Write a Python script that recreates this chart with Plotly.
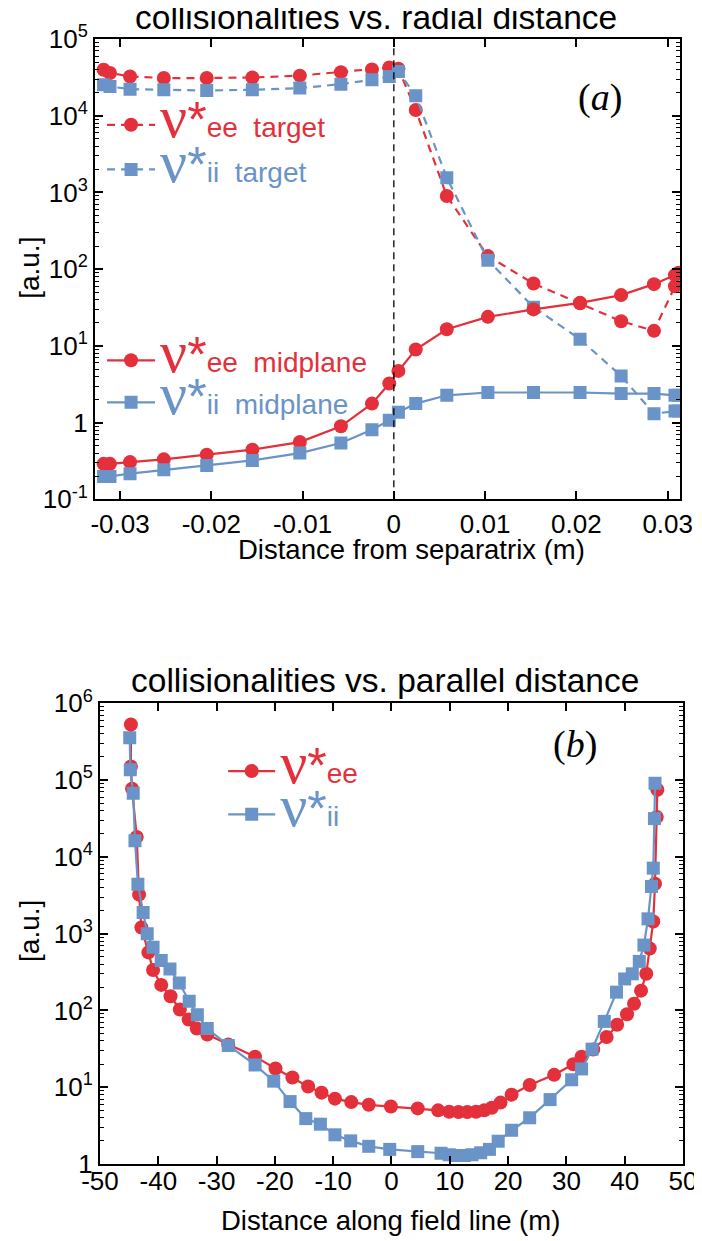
import plotly.graph_objects as go

# ---------------- data: panel (a) ----------------
x_a = [-0.0318, -0.0311, -0.0289, -0.0252, -0.0205, -0.0155, -0.0103, -0.0058, -0.0024, -0.0005,
       0.0005, 0.0024, 0.0058, 0.0103, 0.0153, 0.0204, 0.0249, 0.0285, 0.0308, 0.0312]
ee_target = [39800, 36000, 32500, 31000, 31000, 31500, 33300, 37000, 40000, 42500,
             41000, 11900, 900, 148, 65, 36, 21, 15.7, 60, 88]
ii_target = [25300, 24000, 22200, 21800, 21300, 21800, 22900, 25800, 29400, 32500,
             37800, 18200, 1560, 131, 32, 12.2, 4.06, 1.31, 1.42, 1.42]
ee_mid = [0.29, 0.29, 0.306, 0.332, 0.382, 0.444, 0.558, 0.895, 1.77, 3.23,
          4.72, 8.97, 16.5, 23.9, 29.9, 36.4, 45.9, 63.8, 83.7, 89.7]
ii_mid = [0.199, 0.199, 0.216, 0.243, 0.277, 0.322, 0.401, 0.542, 0.81, 1.07,
          1.37, 1.77, 2.27, 2.47, 2.47, 2.47, 2.39, 2.39, 2.27, 2.27]

xticks_a = [-0.03, -0.02, -0.01, 0, 0.01, 0.02, 0.03]
xticktext_a = ["-0.03", "-0.02", "-0.01", "0", "0.01", "0.02", "0.03"]
yticks_a = [0.1, 1, 10, 100, 1000, 1e4, 1e5]
yticktext_a = ["10<sup>-1</sup>", "1", "10<sup>1</sup>", "10<sup>2</sup>", "10<sup>3</sup>",
               "10<sup>4</sup>", "10<sup>5</sup>"]

# ---------------- data: panel (b) ----------------
x_ee_b = [-44.7, -44.7, -44.5, -43.7, -43.3, -42.9, -41.7, -40.9, -39.5, -37.9, -36.3, -34.8,
          -33.4, -31.6, -28.0, -23.4, -19.9, -17.0, -14.3, -12.0, -9.7, -6.9, -3.9, -0.1, 4.5,
          8.0, 9.9, 11.5, 13.0, 14.5, 15.9, 17.2, 18.7, 20.6, 23.7, 27.9, 31.2, 32.6, 34.6,
          36.9, 38.7, 40.4, 41.6, 42.8, 43.7, 44.3, 44.9, 45.2, 45.5, 45.6]
ee_b = [530000, 150000, 77000, 18200, 3220, 1200, 570, 336, 215, 153, 103, 76, 58, 48.6, 36,
        25, 17.5, 13.4, 10.2, 8.5, 7.1, 6.4, 5.9, 5.6, 5.3, 5.0, 4.8, 4.75, 4.75, 4.8, 5.0,
        5.4, 6.3, 8.0, 10.7, 14.5, 19.9, 25, 31, 45, 65, 89, 122, 181, 300, 640, 1440, 4470,
        33000, 75000]
x_ii_b = [-44.9, -44.8, -44.3, -44.0, -43.5, -42.6, -41.9, -40.9, -39.5, -38.0, -36.4, -34.7,
          -33.3, -31.6, -28.0, -23.4, -20.2, -17.4, -14.7, -12.2, -9.7, -7.0, -3.9, -0.3, 4.5,
          8.5, 9.9, 11.2, 12.5, 13.8, 15.3, 16.8, 18.3, 20.6, 23.7, 27.2, 30.9, 32.6, 34.4,
          36.5, 38.6, 40.0, 41.3, 42.5, 43.3, 44.0, 44.6, 44.9, 45.1, 45.2]
ii_b = [357000, 136000, 67600, 16200, 4400, 1880, 1000, 665, 448, 346, 228, 132, 88, 58, 35,
        19.5, 12, 6.5, 3.9, 3.3, 2.4, 2.0, 1.7, 1.55, 1.45, 1.38, 1.32, 1.29, 1.29, 1.32, 1.40,
        1.55, 1.98, 2.75, 4.0, 6.9, 12.5, 17.3, 31.3, 72, 173, 257, 300, 435, 710, 1560, 4120,
        7130, 31500, 91000]

xticks_b = [-50, -40, -30, -20, -10, 0, 10, 20, 30, 40, 50]
xticktext_b = ["-50", "-40", "-30", "-20", "-10", "0", "10", "20", "30", "40", "50"]
yticks_b = [1, 10, 100, 1000, 1e4, 1e5, 1e6]
yticktext_b = ["1", "10<sup>1</sup>", "10<sup>2</sup>", "10<sup>3</sup>", "10<sup>4</sup>",
               "10<sup>5</sup>", "10<sup>6</sup>"]

RED = "#e3303a"
BLUE = "#6a93c8"
SANS = "Liberation Sans, Arial, sans-serif"


def label(sub, color):
    nu = ("<span style='font-family:Liberation Serif;font-size:60px'>\u03bd</span>"
          "<span style='font-size:50px'>*</span>")
    return f"<span style='color:{color}'>{nu}<span style='font-size:28px'>{sub}</span></span>"


fig = go.Figure()

# panel (a)
fig.add_trace(go.Scatter(x=x_a, y=ee_target, mode="lines+markers", xaxis="x", yaxis="y",
                         line=dict(color=RED, width=2.2, dash="8px,6px"),
                         marker=dict(symbol="circle", size=14, color=RED),
                         name=label("ee\u00a0\u00a0target", RED), legend="legend"))
fig.add_trace(go.Scatter(x=x_a, y=ii_target, mode="lines+markers", xaxis="x", yaxis="y",
                         line=dict(color=BLUE, width=2.2, dash="8px,6px"),
                         marker=dict(symbol="square", size=13, color=BLUE),
                         name=label("ii\u00a0\u00a0target", BLUE), legend="legend"))
fig.add_trace(go.Scatter(x=x_a, y=ee_mid, mode="lines+markers", xaxis="x", yaxis="y",
                         line=dict(color=RED, width=2.2),
                         marker=dict(symbol="circle", size=14, color=RED),
                         name=label("ee\u00a0\u00a0midplane", RED), legend="legend2"))
fig.add_trace(go.Scatter(x=x_a, y=ii_mid, mode="lines+markers", xaxis="x", yaxis="y",
                         line=dict(color=BLUE, width=2.2),
                         marker=dict(symbol="square", size=13, color=BLUE),
                         name=label("ii\u00a0\u00a0midplane", BLUE), legend="legend2"))

# panel (b)
fig.add_trace(go.Scatter(x=x_ee_b, y=ee_b, mode="lines+markers", xaxis="x2", yaxis="y2",
                         line=dict(color=RED, width=2.2),
                         marker=dict(symbol="circle", size=14, color=RED),
                         name=label("ee", RED), legend="legend3"))
fig.add_trace(go.Scatter(x=x_ii_b, y=ii_b, mode="lines+markers", xaxis="x2", yaxis="y2",
                         line=dict(color=BLUE, width=2.2),
                         marker=dict(symbol="square", size=13, color=BLUE),
                         name=label("ii", BLUE), legend="legend3"))

axis_common = dict(showline=True, linecolor="black", linewidth=2, mirror="allticks",
                   ticks="inside", ticklen=8, tickwidth=1.5, tickcolor="black",
                   showgrid=False, zeroline=False,
                   tickfont=dict(family=SANS, size=26, color="black"))
minor_log = dict(ticks="inside", ticklen=4, tickwidth=1, tickcolor="black", dtick="D1",
                 showgrid=False)

# the page body adds an 8px offset; margins compensate so the plot areas land in place
fig.update_layout(
    width=702, height=1241,
    margin=dict(l=87, r=27, t=31, b=85),
    paper_bgcolor="white", plot_bgcolor="white",
    showlegend=True,
    xaxis=dict(domain=[0, 0.9949], range=[-0.03274, 0.03135], anchor="y",
               tickmode="array", tickvals=xticks_a, ticktext=xticktext_a, **axis_common),
    yaxis=dict(domain=[0.5908, 1], type="log", range=[-1, 5], anchor="x",
               tickmode="array", tickvals=yticks_a, ticktext=yticktext_a,
               minor=minor_log, **axis_common),
    xaxis2=dict(domain=[0.0085, 1], range=[-50, 50], anchor="y2",
                tickmode="array", tickvals=xticks_b, ticktext=xticktext_b,
                ticklabelstandoff=-7, **axis_common),
    yaxis2=dict(domain=[0, 0.4095], type="log", range=[0, 6], anchor="x2",
                tickmode="array", tickvals=yticks_b, ticktext=yticktext_b,
                minor=minor_log, **axis_common),
    legend=dict(x=0.012, y=0.948, xanchor="left", yanchor="top", bgcolor="rgba(0,0,0,0)",
                font=dict(family=SANS, size=32), itemwidth=48, tracegroupgap=0),
    legend2=dict(x=0.012, y=0.7375, xanchor="left", yanchor="top", bgcolor="rgba(0,0,0,0)",
                 font=dict(family=SANS, size=30), itemwidth=48, tracegroupgap=0),
    legend3=dict(x=0.218, y=0.373, xanchor="left", yanchor="top", bgcolor="rgba(0,0,0,0)",
                 font=dict(family=SANS, size=31), itemwidth=47, tracegroupgap=0),
)

# separatrix line
fig.add_shape(type="line", xref="x", yref="y domain", x0=0, x1=0, y0=0, y1=1,
              line=dict(color="black", width=1.3, dash="7px,5px"))

ann = [
    dict(text="collisionalities vs. radial distance", x=0.478, y=1.019, size=33.5),
    dict(text="collisionalities vs. parallel distance", x=0.493, y=0.4295, size=33.5),
    dict(text="Distance from separatrix (m)", x=0.539, y=0.5462, size=27.5),
    dict(text="Distance along field line (m)", x=0.502, y=-0.0506, size=27.5),
]
for a in ann:
    fig.add_annotation(text=a["text"], x=a["x"], y=a["y"], xref="paper", yref="paper",
                       showarrow=False, xanchor="center", yanchor="middle",
                       font=dict(family=SANS, size=a["size"], color="black"))
for yy in (0.7966, 0.2072):
    fig.add_annotation(text="[a.u.]", x=-0.1105, y=yy, xref="paper", yref="paper",
                       showarrow=False, textangle=-90, xanchor="center", yanchor="middle",
                       font=dict(family=SANS, size=28, color="black"))
fig.add_annotation(text="(<i>a</i>)", x=0.859, y=0.948, xref="paper", yref="paper",
                   showarrow=False, xanchor="center", yanchor="middle",
                   font=dict(family="Liberation Serif, Times New Roman, serif", size=38,
                             color="black"))
fig.add_annotation(text="(<i>b</i>)", x=0.816, y=0.373, xref="paper", yref="paper",
                   showarrow=False, xanchor="center", yanchor="middle",
                   font=dict(family="Liberation Serif, Times New Roman, serif", size=38,
                             color="black"))

# let the title's tall letters draw into the page margin instead of being clipped
fig.write_html(
    "out.html",
    config={"displayModeBar": False},
    post_script="document.querySelectorAll('svg.main-svg').forEach(function(s){s.style.overflow='visible';});",
)
